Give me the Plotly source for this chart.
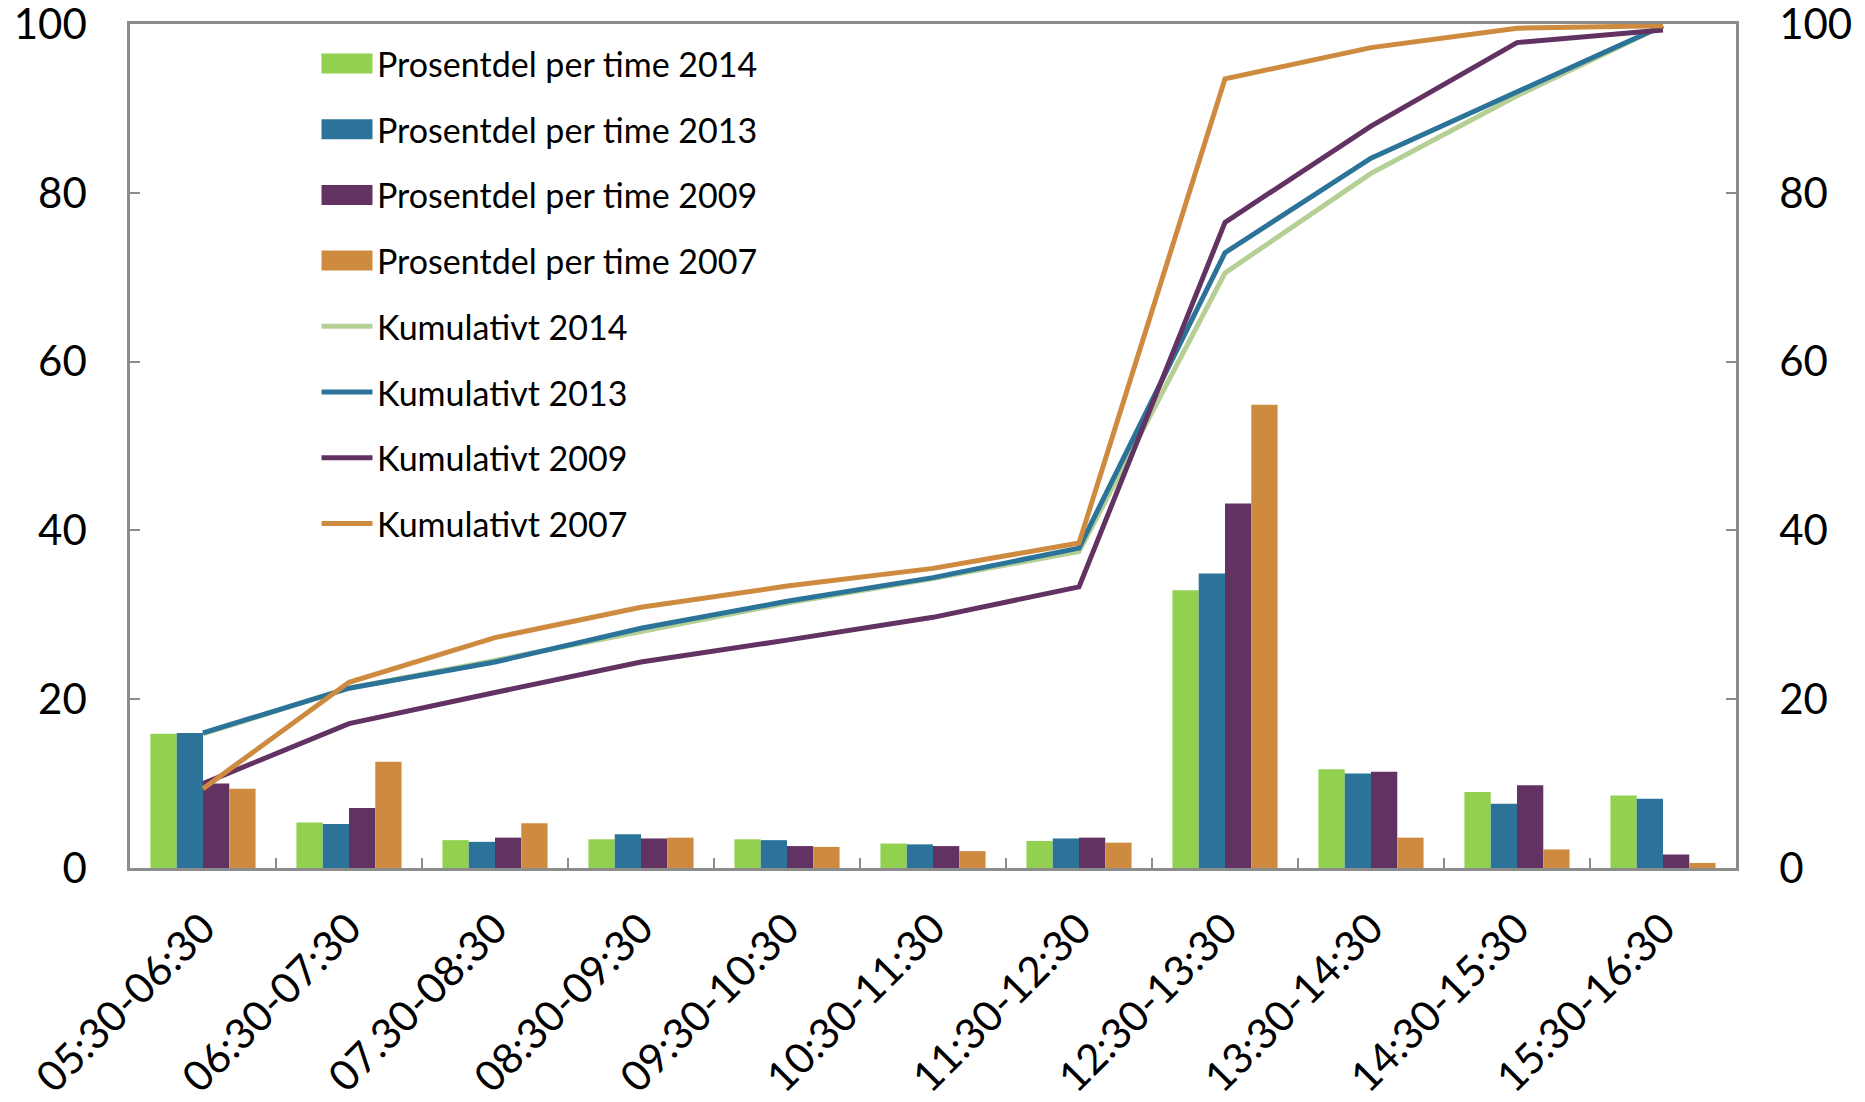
import plotly.graph_objects as go

categories = ["05:30-06:30", "06:30-07:30", "07.30-08:30", "08:30-09:30", "09:30-10:30",
              "10:30-11:30", "11:30-12:30", "12:30-13:30", "13:30-14:30", "14:30-15:30",
              "15:30-16:30"]

share_2014 = [15.9, 5.4, 3.3, 3.4, 3.4, 2.9, 3.2, 32.9, 11.7, 9.0, 8.6]
share_2013 = [16.0, 5.2, 3.1, 4.0, 3.3, 2.8, 3.5, 34.9, 11.2, 7.6, 8.2]
share_2009 = [10.0, 7.1, 3.6, 3.5, 2.6, 2.6, 3.6, 43.2, 11.4, 9.8, 1.6]
share_2007 = [9.4, 12.6, 5.3, 3.6, 2.5, 2.0, 3.0, 54.9, 3.6, 2.2, 0.6]

cum_2014 = [15.9, 21.3, 24.6, 28.0, 31.4, 34.3, 37.5, 70.5, 82.3, 91.5, 99.8]
cum_2013 = [16.0, 21.3, 24.4, 28.4, 31.6, 34.4, 37.9, 72.9, 84.1, 92.0, 99.8]
cum_2009 = [10.0, 17.1, 20.8, 24.4, 27.0, 29.7, 33.3, 76.5, 87.9, 97.8, 99.3]
cum_2007 = [9.4, 22.0, 27.3, 30.9, 33.4, 35.5, 38.5, 93.5, 97.2, 99.5, 99.8]

y_ticks = [0, 20, 40, 60, 80, 100]

bar_names = ["Prosentdel per time 2014", "Prosentdel per time 2013",
             "Prosentdel per time 2009", "Prosentdel per time 2007"]
line_names = ["Kumulativt 2014", "Kumulativt 2013", "Kumulativt 2009", "Kumulativt 2007"]
bar_colors = ["#92D050", "#2B7399", "#623262", "#CE8B40"]
line_colors = ["#B5CF95", "#2B7399", "#623262", "#CE8B40"]

FONT = "Lato"
W, H = 1865, 1102
ML, MR, MT, MB = 122, 137, 16, 242
PW, PH = W - ML - MR, H - MT - MB

fig = go.Figure()

for i, (name, vals) in enumerate(zip(bar_names, [share_2014, share_2013, share_2009, share_2007])):
    fig.add_trace(go.Bar(x=categories, y=vals, name=name, marker_color=bar_colors[i],
                         marker_line_width=0, yaxis="y", showlegend=False))

for i, (name, vals) in enumerate(zip(line_names, [cum_2014, cum_2013, cum_2009, cum_2007])):
    fig.add_trace(go.Scatter(x=categories, y=vals, name=name, mode="lines",
                             line=dict(color=line_colors[i], width=5),
                             yaxis="y2", showlegend=False))

# custom legend (wide swatches like the original); positions relative to plot area
def px_x(px):
    return px / PW

def px_y(py):
    return 1 - py / PH

shapes = []
annotations = []
legend_items = [(n, c, "bar") for n, c in zip(bar_names, bar_colors)] + \
               [(n, c, "line") for n, c in zip(line_names, line_colors)]
y0, step = 39.5, 65.7
for k, (name, color, kind) in enumerate(legend_items):
    cy = y0 + k * step
    if kind == "bar":
        shapes.append(dict(type="rect", xref="paper", yref="paper",
                           x0=px_x(191.5), x1=px_x(242.5), y0=px_y(cy + 10), y1=px_y(cy - 10),
                           fillcolor=color, line=dict(width=0), layer="above"))
    else:
        shapes.append(dict(type="line", xref="paper", yref="paper",
                           x0=px_x(191.5), x1=px_x(242.5), y0=px_y(cy), y1=px_y(cy),
                           line=dict(color=color, width=5), layer="above"))
    annotations.append(dict(text=name, xref="paper", yref="paper", x=px_x(244.5), y=px_y(cy),
                            xanchor="left", yanchor="middle", showarrow=False,
                            font=dict(size=34, family=FONT, color="black")))

axis_color = "#8C8C8C"
fig.update_layout(
    width=W, height=H,
    margin=dict(l=ML, r=MR, t=MT, b=MB),
    plot_bgcolor="white", paper_bgcolor="white",
    font=dict(family=FONT, color="black"),
    barmode="group", bargap=0.28, bargroupgap=0,
    showlegend=False,
    shapes=shapes, annotations=annotations,
    xaxis=dict(type="category", showline=True, linecolor=axis_color, linewidth=2.5,
               mirror=True, ticks="inside", tickson="boundaries", ticklen=10,
               tickcolor=axis_color, tickwidth=2, tickangle=-45,
               tickfont=dict(size=42, family=FONT), ticklabelstandoff=16,
               ticklabeloverflow="allow",
               showgrid=False, zeroline=False, automargin=False),
    yaxis=dict(range=[0, 100], tickvals=y_ticks, showline=True, linecolor=axis_color,
               linewidth=2.5, ticks="inside", ticklen=10, tickcolor=axis_color, tickwidth=2,
               tickfont=dict(size=42, family=FONT), ticklabelstandoff=32,
               ticklabeloverflow="allow", showgrid=False, zeroline=False, automargin=False),
    yaxis2=dict(range=[0, 100], tickvals=y_ticks, overlaying="y", side="right", showline=True,
                linecolor=axis_color, linewidth=2.5, ticks="inside", ticklen=10,
                tickcolor=axis_color, tickwidth=2,
                tickfont=dict(size=42, family=FONT), ticklabelstandoff=32,
                ticklabeloverflow="allow", showgrid=False, zeroline=False, automargin=False),
)

fig.write_html("out.html")
